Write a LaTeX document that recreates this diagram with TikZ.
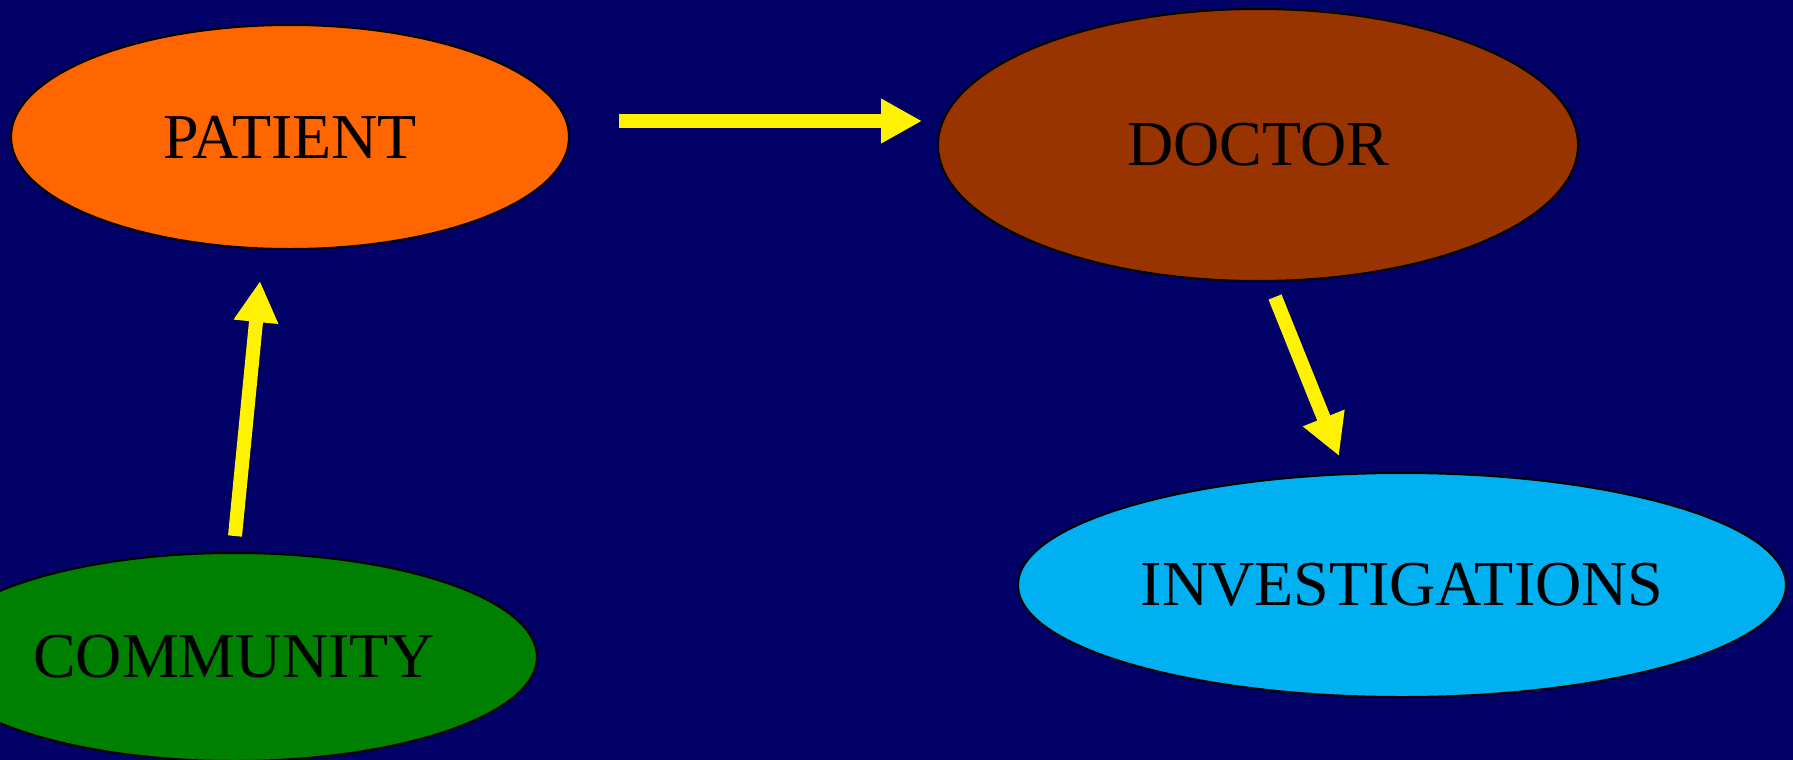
\documentclass[tikz,border=0pt]{standalone}
\usepackage{fontspec}
\setmainfont{Liberation Serif}
\usetikzlibrary{positioning,shapes,arrows.meta}
\definecolor{navy}{HTML}{000066}
\definecolor{patientcol}{HTML}{FF6600}
\definecolor{doctorcol}{HTML}{993300}
\definecolor{investcol}{HTML}{00B0F0}
\definecolor{communitycol}{HTML}{008000}

\begin{document}
\begin{tikzpicture}[%
        x=0.5pt,y=-0.5pt,
        >={Triangle[length=20.5pt,width=21pt]},
        ->,
        blob/.style={%
          ellipse,
          inner sep=0pt,
          draw=black,
          line width=1pt,
          font=\fontsize{32}{38}\selectfont
        },
        link/.style={%
          draw=yellow,
          line width=7pt
        }
      ]
      \fill[navy,-] (0,0) rectangle (1793,760);
      \useasboundingbox (0,0) rectangle (1793,760);

      \node[blob,fill=patientcol,minimum width=279pt,minimum height=112pt] (1) at (290,137) {PATIENT};
      \node[blob,fill=doctorcol,minimum width=320pt,minimum height=136pt] (2) at (1258,145) {DOCTOR};
      \node[blob,fill=investcol,minimum width=384pt,minimum height=112pt] (3) at (1402,585) {INVESTIGATIONS};
      \node[blob,fill=communitycol,minimum width=303pt,minimum height=104pt] (4) at (234,657) {COMMUNITY};

      \coordinate (a1) at (619,121);
      \coordinate (a2) at (922,121);
      \coordinate (b1) at (235,536);
      \coordinate (b2) at (260,281);
      \coordinate (c1) at (1275,297);
      \coordinate (c2) at (1339,456);

      \path (a1) edge [link] node {} (a2)
      (b1) edge [link] node {} (b2)
      (c1) edge [link] node {} (c2);

  \end{tikzpicture}
\end{document}
